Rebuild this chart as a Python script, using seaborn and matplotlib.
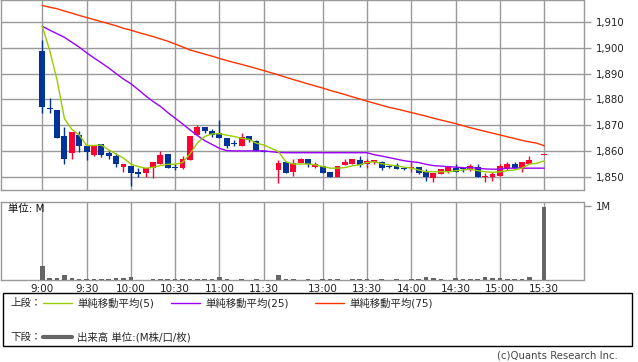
import matplotlib
matplotlib.use("Agg")
import matplotlib.pyplot as plt
import numpy as np
import pandas as pd
import seaborn as sns
from matplotlib.lines import Line2D
from matplotlib.patches import Rectangle
from matplotlib.ticker import FuncFormatter

nan = np.nan

# 5-minute bars: morning 9:00-11:30, afternoon 12:30-15:30
TIMES = ([f"{h}:{m:02d}" for h in (9, 10, 11) for m in range(0, 60, 5)][:31]
         + [f"{h}:{m:02d}" for h in (12, 13, 14, 15) for m in range(0, 60, 5)][6:43])

OPEN = [1898.7, 1876.5, 1876.0, 1865.9, 1859.0, 1866.2, 1862.1, 1858.6, 1862.6, 1859.0,
        1858.2, 1853.9, 1854.3, 1851.9, 1851.6, 1853.3, 1855.1, 1858.8, 1853.9, 1853.5,
        1856.6, 1866.0, 1869.1, 1867.8, 1866.9, 1865.1, 1862.7, 1862.1, 1865.9, 1863.9,
        1860.0,
        1852.6, 1855.5, 1851.9, 1855.2, 1856.9, 1853.9, 1854.2, 1851.8, 1850.0, 1854.6,
        1855.1, 1856.5, 1854.8, 1855.5, 1855.6, 1853.8, 1854.6, 1853.1, 1853.3, 1853.9,
        1851.9, 1849.6, 1851.2, 1852.2, 1853.5, 1853.0, 1852.9, 1853.7, 1849.7, 1849.7,
        1850.4, 1853.0, 1855.1, 1853.5, 1854.8, nan, 1858.5]
HIGH = [1903.2, 1880.5, 1876.0, 1869.1, 1867.4, 1867.8, 1862.1, 1862.2, 1862.6, 1860.1,
        1859.2, 1855.1, 1854.3, 1853.5, 1853.4, 1855.5, 1859.9, 1858.8, 1855.0, 1858.1,
        1865.6, 1870.0, 1869.1, 1868.5, 1872.1, 1865.1, 1864.3, 1867.1, 1865.9, 1864.3,
        1860.0,
        1856.5, 1855.8, 1856.8, 1857.3, 1856.9, 1855.8, 1854.2, 1851.8, 1854.2, 1856.8,
        1856.9, 1858.1, 1857.0, 1856.5, 1855.9, 1854.5, 1855.3, 1853.9, 1855.8, 1853.9,
        1852.9, 1851.3, 1852.9, 1853.9, 1854.9, 1853.5, 1854.9, 1854.9, 1851.3, 1851.9,
        1855.1, 1855.5, 1855.8, 1855.5, 1858.1, nan, 1858.5]
LOW = [1874.7, 1874.7, 1865.2, 1855.1, 1857.0, 1859.7, 1856.6, 1858.2, 1857.8, 1856.9,
       1853.9, 1851.8, 1846.5, 1850.0, 1850.0, 1849.6, 1855.1, 1853.5, 1852.5, 1852.9,
       1856.6, 1866.0, 1866.9, 1865.5, 1865.2, 1861.3, 1862.1, 1862.1, 1863.6, 1860.0,
       1859.6,
       1847.7, 1851.6, 1850.4, 1855.2, 1853.9, 1853.3, 1851.3, 1849.7, 1850.0, 1854.6,
       1855.1, 1853.9, 1853.5, 1854.8, 1852.6, 1853.2, 1852.9, 1852.6, 1851.9, 1851.0,
       1848.3, 1848.1, 1851.2, 1851.3, 1851.9, 1851.7, 1852.2, 1850.0, 1848.1, 1848.5,
       1850.4, 1852.6, 1853.3, 1852.0, 1854.8, nan, 1858.5]
CLOSE = [1876.9, 1876.2, 1865.2, 1857.0, 1867.4, 1862.1, 1859.6, 1862.2, 1858.6, 1858.2,
         1855.1, 1855.1, 1851.6, 1851.2, 1853.4, 1855.5, 1858.6, 1853.5, 1853.5, 1856.9,
         1865.6, 1869.1, 1867.9, 1866.0, 1865.2, 1862.1, 1862.5, 1865.5, 1864.3, 1860.0,
         1859.6,
         1855.3, 1851.6, 1855.3, 1856.9, 1854.9, 1854.9, 1851.3, 1849.7, 1854.2, 1855.7,
         1856.9, 1854.6, 1856.1, 1856.5, 1853.3, 1853.6, 1852.9, 1853.0, 1853.5, 1851.6,
         1849.7, 1851.3, 1852.9, 1853.9, 1851.9, 1852.9, 1854.2, 1850.0, 1850.3, 1850.9,
         1854.2, 1855.1, 1853.3, 1855.5, 1856.5, nan, 1858.5]

# volume in millions
VOLUME = [0.19, 0.027, 0.027, 0.063, 0.027, 0.018, 0.014, 0.014, 0.014, 0.018,
          0.027, 0.027, 0.04, 0.005, 0.005, 0.014, 0.014, 0.014, 0.014, 0.014,
          0.014, 0.014, 0.014, 0.014, 0.04, 0.014, 0.005, 0.014, 0.005, 0.014,
          0.005,
          0.068, 0.018, 0.018, 0.005, 0.014, 0.005, 0.014, 0.014, 0.014, 0.005,
          0.014, 0.014, 0.014, 0.005, 0.014, 0.005, 0.014, 0.005, 0.014, 0.018,
          0.04, 0.027, 0.018, 0.005, 0.027, 0.018, 0.018, 0.018, 0.04, 0.027,
          0.027, 0.018, 0.018, 0.018, 0.04, 0.0, 0.99]

MA5 = [1908.4, 1899.0, 1887.5, 1872.5, 1868.4, 1866.2, 1862.1, 1862.1, 1862.3, 1860.4,
       1858.8, 1857.2, 1854.9, 1853.9, 1853.3, 1853.6, 1854.3, 1854.8, 1854.8, 1855.5,
       1858.8, 1863.0, 1865.6, 1866.6, 1866.7, 1866.1, 1865.6, 1864.9, 1864.5, 1863.0,
       1862.3,
       1859.7, 1855.8, 1854.9, 1854.9, 1854.9, 1854.6, 1853.9, 1853.3, 1853.3, 1853.5,
       1854.2, 1854.6, 1855.5, 1855.8, 1855.0, 1854.6, 1854.2, 1853.7, 1853.3, 1852.6,
       1851.9, 1851.9, 1851.9, 1851.9, 1852.3, 1852.6, 1852.9, 1852.3, 1851.9, 1851.7,
       1851.9, 1852.3, 1852.6, 1853.3, 1854.9, 1855.2, 1856.1]
MA25 = [1908.4, 1906.9, 1905.5, 1904.1, 1902.2, 1900.3, 1898.1, 1896.1, 1894.2, 1892.2,
        1890.0, 1887.9, 1886.1, 1883.8, 1881.4, 1879.2, 1877.3, 1874.9, 1872.7, 1870.5,
        1868.2, 1866.0, 1864.0, 1862.5, 1861.0, 1860.1, 1860.0, 1860.0, 1860.0, 1860.0,
        1860.0,
        1859.4, 1859.3, 1859.3, 1859.3, 1859.3, 1859.3, 1859.3, 1859.3, 1859.3, 1859.3,
        1859.3, 1859.3, 1859.3, 1858.5, 1858.0, 1857.4, 1856.8, 1856.2, 1855.8, 1855.5,
        1854.8, 1854.3, 1854.1, 1853.9, 1853.7, 1853.5, 1853.5, 1853.3, 1853.0, 1852.9,
        1852.9, 1853.3, 1853.3, 1853.3, 1853.3, 1853.3, 1853.3]
MA75 = [1916.5, 1915.8, 1915.2, 1914.3, 1913.5, 1912.6, 1911.8, 1911.0, 1910.2, 1909.4,
        1908.6, 1907.6, 1906.9, 1906.0, 1905.2, 1904.4, 1903.5, 1902.6, 1901.5, 1900.4,
        1899.2, 1898.4, 1897.6, 1896.8, 1895.9, 1895.1, 1894.3, 1893.6, 1892.8, 1892.0,
        1891.2,
        1889.5, 1888.6, 1887.7, 1886.9, 1886.0, 1885.2, 1884.4, 1883.5, 1882.7, 1881.9,
        1881.0, 1880.2, 1879.3, 1878.5, 1877.7, 1876.9, 1876.3, 1875.6, 1874.9, 1874.2,
        1873.5, 1872.7, 1872.0, 1871.3, 1870.6, 1869.8, 1869.0, 1868.3, 1867.6, 1866.9,
        1866.2, 1865.5, 1864.8, 1864.1, 1863.5, 1863.0, 1862.0]

TICK_LABELS = ["9:00", "9:30", "10:00", "10:30", "11:00", "11:30",
               "13:00", "13:30", "14:00", "14:30", "15:00", "15:30"]
PRICE_TICKS = [1850, 1860, 1870, 1880, 1890, 1900, 1910]

UP_COLOR = "#ff0033"
DOWN_COLOR = "#003399"
GRID = "#999999"
W, H = 638, 362


def slot(t):
    # position on the x axis, one slot per 5-minute bar, one empty slot for lunch
    h, m = map(int, t.split(":"))
    minutes = h * 60 + m
    if minutes <= 690:
        return (minutes - 540) / 5
    return (minutes - 750) / 5 + 32


df = pd.DataFrame({"time": TIMES, "open": OPEN, "high": HIGH, "low": LOW,
                   "close": CLOSE, "volume": VOLUME,
                   "ma5": MA5, "ma25": MA25, "ma75": MA75})
df["x"] = df["time"].map(slot)
tick_x = [slot(t) for t in TICK_LABELS]

sns.set_theme(style="white")
plt.rcParams["font.family"] = ["DejaVu Sans", "Noto Sans CJK JP"]

fig = plt.figure(figsize=(W / 100, H / 100), dpi=100)
ax = fig.add_axes([1 / W, 1 - 190 / H, 582.5 / W, 190 / H])
axv = fig.add_axes([1 / W, 1 - 280 / H, 582.5 / W, 78.3 / H], sharex=ax)

x_left = (1 - 42.3) / 7.38
x_right = (583.5 - 42.3) / 7.38

for a in (ax, axv):
    a.set_facecolor("white")
    for s in a.spines.values():
        s.set_color(GRID)
        s.set_linewidth(1)
    a.set_xticks(tick_x)
    a.grid(True, axis="x", color=GRID, linewidth=1)
    a.set_axisbelow(True)
    a.yaxis.tick_right()
    a.tick_params(axis="y", which="both", right=True, left=False, length=5,
                  width=1, color=GRID, pad=4, labelsize=7.3, labelcolor="#222222")
    a.tick_params(axis="x", length=0)

# candles
c = df.dropna(subset=["open"])
up = c["close"] >= c["open"]
colors = np.where(up, UP_COLOR, DOWN_COLOR)
ax.vlines(c["x"], c["low"], c["high"], colors=colors, linewidth=1, zorder=3)
body = np.maximum((c["close"] - c["open"]).abs(), 0.4)
ax.bar(c["x"], body, bottom=np.minimum(c["open"], c["close"]), width=0.8,
       color=colors, linewidth=0, zorder=4)

# moving averages
sns.lineplot(data=df, x="x", y="ma75", ax=ax, color="#ff3300", linewidth=1, zorder=5)
sns.lineplot(data=df, x="x", y="ma25", ax=ax, color="#9900ff", linewidth=1, zorder=5)
sns.lineplot(data=df, x="x", y="ma5", ax=ax, color="#99cc00", linewidth=1, zorder=5)

ax.set_ylim(1844.82, 1918.6)
ax.set_yticks(PRICE_TICKS)
ax.yaxis.set_major_formatter(FuncFormatter(lambda v, p: f"{v:,.0f}"))
ax.grid(True, axis="y", color=GRID, linewidth=1)
ax.set_xlim(x_left, x_right)
ax.tick_params(axis="x", labelbottom=False)
ax.set_xlabel("")
ax.set_ylabel("")

# volume
axv.bar(df["x"], df["volume"], width=0.62, color="#666666", linewidth=0, zorder=3)
axv.set_ylim(0, 1.058)
axv.set_yticks([1.0])
axv.set_yticklabels(["1M"])
axv.set_xticklabels(TICK_LABELS)
axv.tick_params(axis="x", labelsize=7.5, pad=3, labelcolor="#222222")
axv.set_xlabel("")
axv.set_ylabel("")
axv.text(8 / W, 1 - 209 / H, "単位: M", transform=fig.transFigure, fontsize=7.5,
         va="center", ha="left", color="#111111")

# legend box
fig.add_artist(Rectangle((3 / W, 1 - 346 / H), 629 / W, 53 / H, transform=fig.transFigure,
                         fill=False, edgecolor="black", linewidth=1))
y1 = 1 - 303 / H
y2 = 1 - 337 / H
fig.text(10 / W, y1, "上段：", fontsize=7.5, va="center")
fig.text(10 / W, y2, "下段：", fontsize=7.5, va="center")
entries = [(43, "#99cc00", "単純移動平均(5)"),
           (171, "#9900ff", "単純移動平均(25)"),
           (315, "#ff3300", "単純移動平均(75)")]
for x0, col, label in entries:
    fig.add_artist(Line2D([x0 / W, (x0 + 29) / W], [y1, y1], transform=fig.transFigure,
                          color=col, linewidth=1))
    fig.text((x0 + 34) / W, y1, label, fontsize=7.5, va="center")
fig.add_artist(Line2D([43 / W, 72 / W], [y2, y2], transform=fig.transFigure,
                      color="#666666", linewidth=3))
fig.text(77 / W, y2, "出来高 単位:(M株/口/枚)", fontsize=7.5, va="center")

fig.text(618 / W, 1 - 356 / H, "(c)Quants Research Inc.", fontsize=7.3,
         ha="right", va="center", color="#444444")

fig.savefig("out.png", dpi=100)
